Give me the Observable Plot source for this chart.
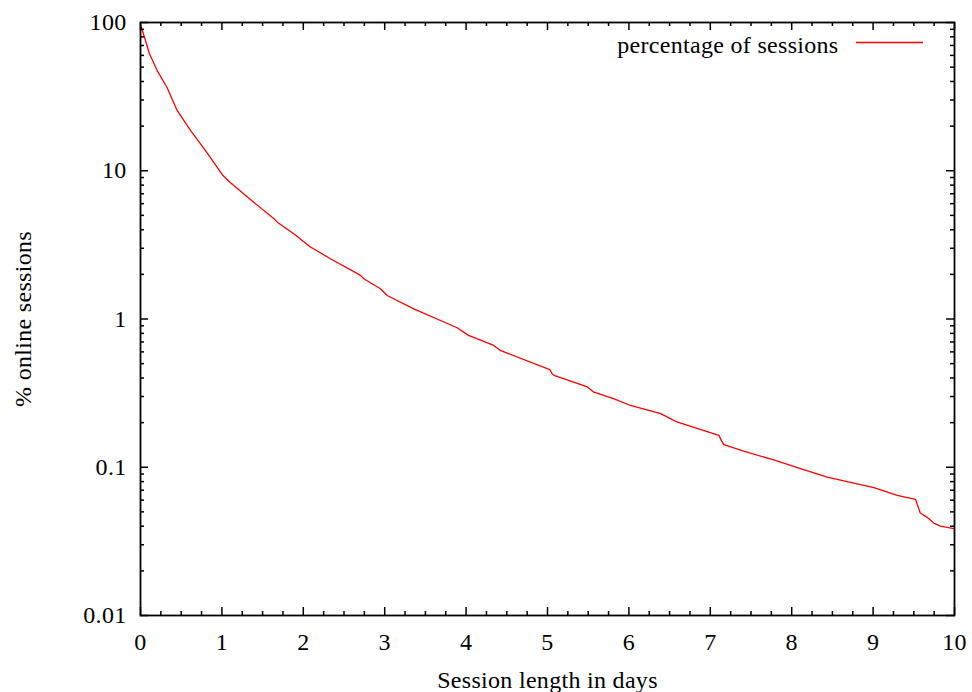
<!DOCTYPE html>
<html>
<head>
<meta charset="utf-8">
<script src="https://cdn.jsdelivr.net/npm/d3@7"></script>
<script src="https://cdn.jsdelivr.net/npm/@observablehq/plot@0.6"></script>
<style>
  body { margin: 0; background: #fff; }
  #wrap { width: 972px; height: 692px; }
  #wrap svg text { letter-spacing: 0.3px; }
</style>
</head>
<body>
<div id="wrap"></div>
<script>
// Data
const days = [0, 0.061, 0.11, 0.205, 0.328, 0.45, 0.614, 0.819, 1.004, 1.106, 1.38, 1.64, 1.68, 1.883, 2.088, 2.334, 2.703, 2.744, 2.948, 3.03, 3.357, 3.89, 4.03, 4.34, 4.42, 4.996, 5.03, 5.06, 5.08, 5.49, 5.57, 5.81, 6.02, 6.39, 6.51, 6.59, 7.105, 7.14, 7.166, 7.41, 7.78, 8.07, 8.436, 9.01, 9.296, 9.52, 9.58, 9.66, 9.745, 9.83, 9.99, 10];
const pct  = [97, 75.6, 61.5, 47.4, 36.3, 25.5, 18.7, 13.2, 9.4, 8.3, 6.2, 4.75, 4.5, 3.76, 3.06, 2.55, 1.97, 1.87, 1.60, 1.44, 1.17, 0.873, 0.775, 0.663, 0.614, 0.462, 0.455, 0.425, 0.417, 0.348, 0.321, 0.290, 0.261, 0.230, 0.213, 0.202, 0.164, 0.150, 0.142, 0.1285, 0.112, 0.0993, 0.0859, 0.0728, 0.0646, 0.0608, 0.0491, 0.0461, 0.042, 0.0401, 0.0385, 0.0385];

const seriesName = "percentage of sessions";
const xLabel = "Session length in days";
const yLabel = "% online sessions";

const xTickValues = [0, 1, 2, 3, 4, 5, 6, 7, 8, 9, 10];
const xTickLabels = ["0", "1", "2", "3", "4", "5", "6", "7", "8", "9", "10"];
const yTickValues = [0.01, 0.1, 1, 10, 100];
const yTickLabels = ["0.01", "0.1", "1", "10", "100"];

const xMinor = d3.range(0, 10.001, 0.25).filter(v => !xTickValues.includes(v));
const yMinor = [0.01, 0.1, 1, 10].flatMap(d => [2, 3, 4, 5, 6, 7, 8, 9].map(m => +(d * m).toPrecision(3)));

const data = days.map((d, i) => ({days: d, pct: pct[i]}));

const W = 972, H = 692, mL = 140, mR = 18, mT = 22, mB = 77;
const fw = W - mL - mR, fh = H - mT - mB;
const major = 8, minor = 4;

const legendMark = (index, scales, values, dims) => {
  const x2 = dims.width - dims.marginRight - 31;
  const x1 = dims.width - dims.marginRight - 98;
  const y = dims.marginTop + 20.5;
  return d3.create("svg:line")
    .attr("x1", x1).attr("x2", x2).attr("y1", y).attr("y2", y)
    .attr("stroke", "#ff0000").attr("stroke-width", 1.3).node();
};

const chart = Plot.plot({
  width: W, height: H,
  marginLeft: mL, marginRight: mR, marginTop: mT, marginBottom: mB,
  style: {fontFamily: "'Liberation Serif', 'Times New Roman', serif", fontSize: "24px", background: "#fff", color: "#000"},
  x: {domain: [0, 10]},
  y: {type: "log", domain: [0.01, 100]},
  marks: [
    Plot.line(data, {x: "days", y: "pct", stroke: "#ff0000", strokeWidth: 1.3}),
    // inward ticks: bottom & top
    Plot.tickX(xTickValues, {x: d => d, insetTop: fh - major, stroke: "#000", strokeWidth: 1.5}),
    Plot.tickX(xTickValues, {x: d => d, insetBottom: fh - major, stroke: "#000", strokeWidth: 1.5}),
    Plot.tickX(xMinor, {x: d => d, insetTop: fh - minor, stroke: "#000", strokeWidth: 1.5}),
    Plot.tickX(xMinor, {x: d => d, insetBottom: fh - minor, stroke: "#000", strokeWidth: 1.5}),
    // inward ticks: left & right
    Plot.tickY(yTickValues, {y: d => d, insetRight: fw - major, stroke: "#000", strokeWidth: 1.5}),
    Plot.tickY(yTickValues, {y: d => d, insetLeft: fw - major, stroke: "#000", strokeWidth: 1.5}),
    Plot.tickY(yMinor, {y: d => d, insetRight: fw - minor, stroke: "#000", strokeWidth: 1.5}),
    Plot.tickY(yMinor, {y: d => d, insetLeft: fw - minor, stroke: "#000", strokeWidth: 1.5}),
    Plot.axisX({ticks: xTickValues, tickFormat: (d, i) => xTickLabels[i], tickSize: 0, tickPadding: 17,
      label: xLabel, labelAnchor: "center", labelOffset: 72, labelArrow: "none"}),
    Plot.axisY({ticks: [], tickSize: 0,
      label: yLabel, labelAnchor: "center", labelOffset: 127, labelArrow: "none"}),
    Plot.text(yTickValues, {y: d => d, text: (d, i) => yTickLabels[i], frameAnchor: "left", dx: -14,
      textAnchor: "end", lineAnchor: "middle", fill: "#000"}),
    Plot.frame({stroke: "#000", strokeWidth: 1.8}),
    Plot.text([seriesName], {frameAnchor: "top-right", dx: -116, dy: 13, textAnchor: "end", fill: "#000"}),
    legendMark
  ]
});
document.getElementById("wrap").appendChild(chart);
</script>
</body>
</html>
